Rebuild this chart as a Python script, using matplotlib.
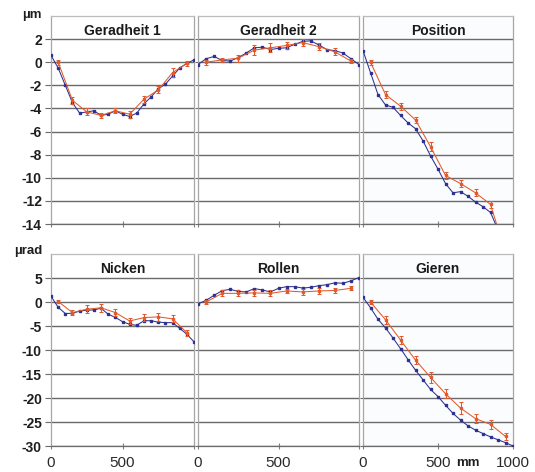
import matplotlib
matplotlib.use('Agg')
import matplotlib.pyplot as plt

plt.rcParams['font.family'] = ['Liberation Sans', 'DejaVu Sans']

# ---------------- data ----------------
x_blue = [0, 50, 100, 150, 200, 250, 300, 350, 400, 450, 500,
          550, 600, 650, 700, 750, 800, 850, 900, 950, 1000]
x_red = [50, 150, 250, 350, 450, 550, 650, 750, 850, 950]

titles_top = ['Geradheit 1', 'Geradheit 2', 'Position']
titles_bottom = ['Nicken', 'Rollen', 'Gieren']

ger1_blue = [0.6, -0.5, -2.0, -3.5, -4.4, -4.3, -4.2, -4.6, -4.5, -4.2, -4.5,
             -4.7, -4.4, -3.6, -3.0, -2.3, -1.9, -1.2, -0.5, -0.1, 0.2]
ger1_red = [0.0, -3.3, -4.3, -4.6, -4.2, -4.5, -3.2, -2.4, -0.9, -0.1]
ger1_err = [0.2, 0.3, 0.3, 0.2, 0.2, 0.3, 0.3, 0.3, 0.4, 0.2]

ger2_blue = [-0.2, 0.3, 0.5, 0.15, 0.1, 0.4, 0.8, 1.25, 1.3, 1.1, 1.2,
             1.25, 1.55, 1.8, 1.85, 1.5, 1.1, 1.0, 0.8, 0.3, -0.2]
ger2_red = [0.0, 0.2, 0.35, 1.05, 1.25, 1.45, 1.7, 1.35, 0.9, 0.1]
ger2_err = [0.2, 0.2, 0.3, 0.4, 0.4, 0.3, 0.3, 0.3, 0.3, 0.2]

pos_blue = [1.0, -0.9, -2.8, -3.7, -3.9, -4.6, -5.25, -5.75, -6.8, -8.1, -9.25,
            -10.5, -11.3, -11.2, -11.6, -12.1, -12.5, -13.0, -14.5, -15.3, -16.0]
pos_red = [0.0, -2.8, -3.8, -5.0, -7.3, -9.8, -10.5, -11.3, -12.3, -16.5]
pos_err = [0.2, 0.3, 0.3, 0.3, 0.4, 0.3, 0.3, 0.3, 0.3, 0.3]

nick_blue = [1.2, -1.1, -2.4, -2.35, -1.9, -1.7, -1.65, -1.3, -2.55, -3.2, -4.1,
             -4.65, -4.85, -3.9, -3.9, -4.2, -4.3, -4.3, -5.5, -6.7, -8.3]
nick_red = [0.1, -2.2, -1.5, -1.2, -2.2, -3.95, -3.25, -3.1, -3.5, -6.4]
nick_err = [0.4, 0.6, 0.8, 0.8, 0.7, 0.6, 0.8, 0.8, 0.7, 0.6]

roll_blue = [-0.4, 0.35, 1.4, 2.35, 2.65, 2.2, 2.1, 2.8, 2.5, 2.1, 2.85,
             3.2, 3.2, 2.9, 3.05, 3.4, 3.6, 4.0, 3.9, 4.4, 5.1]
roll_red = [0.0, 1.8, 1.8, 1.9, 1.8, 2.3, 2.1, 2.3, 2.4, 2.85]
roll_err = [0.4, 0.6, 0.6, 0.6, 0.6, 0.5, 0.6, 0.6, 0.5, 0.4]

gier_blue = [1.0, -1.2, -3.6, -5.4, -7.5, -9.7, -12.0, -14.2, -16.2, -18.2, -19.7,
             -21.5, -23.2, -24.6, -25.8, -26.7, -27.4, -28.1, -28.7, -29.3, -30.0]
gier_red = [0.0, -3.7, -7.9, -12.1, -15.7, -19.1, -22.1, -24.3, -25.5, -28.0]
gier_err = [0.5, 0.8, 0.9, 0.9, 1.2, 1.0, 1.2, 1.0, 1.0, 0.8]

top_yticks = [-14, -12, -10, -8, -6, -4, -2, 0, 2]
top_ylabels = ['-14', '-12', '-10', '-8', '-6', '-4', '-2', '0', '2']
bot_yticks = [-30, -25, -20, -15, -10, -5, 0, 5]
bot_ylabels = ['-30', '-25', '-20', '-15', '-10', '-5', '0', '5']
x_ticks = [0, 500, 1000]

top_series = [(ger1_blue, ger1_red, ger1_err),
              (ger2_blue, ger2_red, ger2_err),
              (pos_blue, pos_red, pos_err)]
bot_series = [(nick_blue, nick_red, nick_err),
              (roll_blue, roll_red, roll_err),
              (gier_blue, gier_red, gier_err)]

# ---------------- style ----------------
BLUE = '#2e3190'
RED = '#e2592b'
GRID = '#6a6a6a'
SIDE = '#a6a6a6'
TOPC = '#bcbcbc'

W, H = 535, 472
fig = plt.figure(figsize=(W / 100, H / 100), dpi=100)

cols = [(51, 143), (198, 161), (363, 150)]
rows = [(16, 224), (254, 446)]


def make_axes(col, row):
    x0, w = cols[col]
    yt, yb = rows[row]
    return fig.add_axes([x0 / W, 1 - yb / H, w / W, (yb - yt) / H])


for r in range(2):
    for c in range(3):
        ax = make_axes(c, r)
        if r == 0:
            blue, red, err = top_series[c]
            ylim = (-14, 4)
            yt, yl = top_yticks, top_ylabels
            title = titles_top[c]
            ty = 2.35
        else:
            blue, red, err = bot_series[c]
            ylim = (-30, 10)
            yt, yl = bot_yticks, bot_ylabels
            title = titles_bottom[c]
            ty = 6.1
        if c == 2:
            ax.set_facecolor('#fbfcfe')

        ax.plot(x_blue, blue, color=BLUE, lw=0.75, marker='s', ms=1.7,
                mec=BLUE, mfc=BLUE, zorder=3)
        ax.errorbar(x_red, red, yerr=err, color=RED, lw=0.75, marker='s',
                    ms=2.1, mec=RED, mfc=RED, elinewidth=0.75, capsize=1.3,
                    capthick=0.75, zorder=4)

        ax.set_xlim(0, 1000)
        ax.set_ylim(*ylim)
        ax.set_yticks(yt)
        ax.set_xticks(x_ticks)
        ax.grid(axis='y', color=GRID, lw=1.0)
        ax.grid(axis='x', visible=False)
        ax.set_axisbelow(True)

        ax.spines['top'].set_color(TOPC)
        ax.spines['bottom'].set_color(GRID)
        ax.spines['left'].set_color(SIDE)
        ax.spines['right'].set_color(SIDE)
        for s in ax.spines.values():
            s.set_linewidth(0.9)

        ax.tick_params(axis='x', direction='inout', length=5, width=0.8,
                       color='#808080', pad=4.5, labelsize=11,
                       labelcolor='#2a2a2a')
        if c == 0:
            ax.set_yticklabels(yl, fontweight='bold')
            ax.tick_params(axis='y', direction='out', length=4, width=0.8,
                           color=GRID, pad=2.5, labelsize=10,
                           labelcolor='#1e1e1e')
        else:
            ax.tick_params(axis='y', direction='out', length=2.5, width=0.8,
                           color=GRID, labelleft=False)

        if r == 1:
            if c == 2:
                ax.set_xticklabels(['0', '500', '1000'])
            else:
                ax.set_xticklabels(['0', '500', ''])
        else:
            ax.set_xticklabels(['', '', ''])

        ax.text(500, ty, title, ha='center', va='baseline',
                fontsize=10, fontweight='bold', color='#1a1a1a')

fig.text(42 / W, 1 - 15 / H, 'µm', ha='right', va='center',
         fontsize=9.5, fontweight='bold', color='#1e1e1e')
fig.text(42 / W, 1 - 251 / H, 'µrad', ha='right', va='center',
         fontsize=9.5, fontweight='bold', color='#1e1e1e')
fig.text(468 / W, 1 - 463 / H, 'mm', ha='center', va='center',
         fontsize=9.5, fontweight='bold', color='#1e1e1e')

fig.savefig('out.png', dpi=100)
